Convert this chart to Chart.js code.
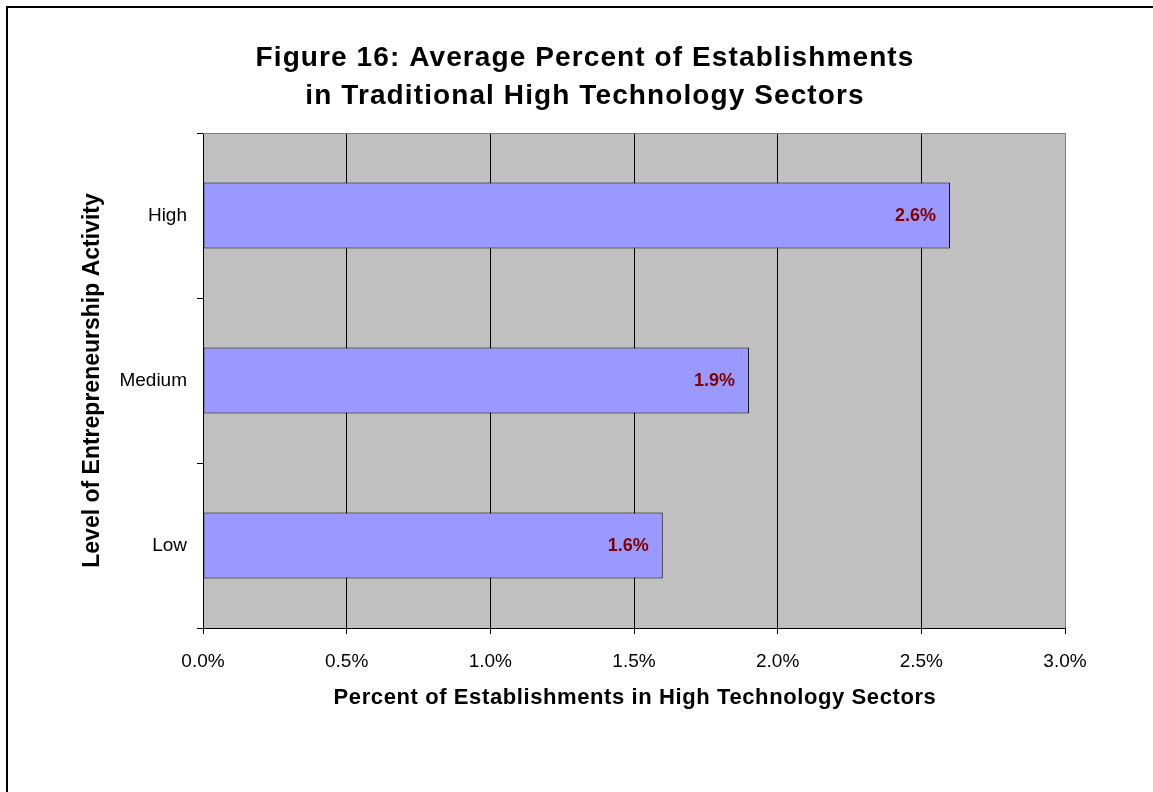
<!DOCTYPE html>
<html>
<head>
<meta charset="utf-8">
<script src="https://cdn.jsdelivr.net/npm/chart.js@4/dist/chart.umd.min.js"></script>
<style>
  html, body { margin: 0; padding: 0; background: #ffffff; }
  #wrap { position: relative; width: 1153px; height: 792px; }
</style>
</head>
<body>
<div id="wrap"><canvas id="c" width="1153" height="792"></canvas></div>
<script>
const categories = ['High', 'Medium', 'Low'];
const values = [2.6, 1.9, 1.6];
const valueLabels = ['2.6%', '1.9%', '1.6%'];
const xTicks = [0, 0.5, 1.0, 1.5, 2.0, 2.5, 3.0];
const titleLines = ['Figure 16: Average Percent of Establishments', 'in Traditional High Technology Sectors'];
const xTitle = 'Percent of Establishments in High Technology Sectors';
const yTitle = 'Level of Entrepreneurship Activity';

const FONT = 'Arial, "Liberation Sans", sans-serif';

const frame = {
  id: 'frame',
  beforeDraw(chart) {
    const { ctx, chartArea: a } = chart;
    ctx.save();
    ctx.fillStyle = '#C0C0C0';
    ctx.fillRect(a.left, a.top, a.right - a.left, a.bottom - a.top);
    ctx.restore();
  },
  afterDraw(chart) {
    const { ctx, chartArea: a } = chart;
    ctx.save();
    // outer border
    ctx.strokeStyle = '#000';
    ctx.lineWidth = 2;
    ctx.strokeRect(7, 7, 1200, 1200);
    // plot area top/right border
    ctx.strokeStyle = '#808080';
    ctx.lineWidth = 1;
    ctx.beginPath();
    ctx.moveTo(a.left, a.top + 0.5);
    ctx.lineTo(a.right + 0.5, a.top + 0.5);
    ctx.lineTo(a.right + 0.5, a.bottom);
    ctx.stroke();

    // main title
    ctx.fillStyle = '#000';
    ctx.textAlign = 'center';
    ctx.textBaseline = 'middle';
    ctx.font = 'bold 28px ' + FONT;
    if ('letterSpacing' in ctx) ctx.letterSpacing = '1.1px';
    ctx.fillText(titleLines[0], 585, 58);
    ctx.fillText(titleLines[1], 585, 96);

    // x axis title
    ctx.font = 'bold 22px ' + FONT;
    if ('letterSpacing' in ctx) ctx.letterSpacing = '0.6px';
    ctx.fillText(xTitle, (a.left + a.right) / 2 + 1, 698);

    // y axis title
    if ('letterSpacing' in ctx) ctx.letterSpacing = '0px';
    ctx.save();
    ctx.translate(93, (a.top + a.bottom) / 2);
    ctx.rotate(-Math.PI / 2);
    ctx.font = 'bold 23px ' + FONT;
    ctx.fillText(yTitle, 0, 0);
    ctx.restore();

    // value labels
    const meta = chart.getDatasetMeta(0);
    ctx.fillStyle = '#800000';
    ctx.font = 'bold 18px ' + FONT;
    ctx.textAlign = 'right';
    ctx.textBaseline = 'middle';
    meta.data.forEach((bar, i) => {
      ctx.fillText(valueLabels[i], bar.x - 14, bar.y + 1);
    });
    ctx.restore();
  }
};

new Chart(document.getElementById('c'), {
  type: 'bar',
  data: {
    labels: categories,
    datasets: [{
      data: values,
      backgroundColor: '#9999FF',
      borderColor: '#000000',
      borderWidth: 1,
      borderSkipped: false,
      barPercentage: 0.4,
      categoryPercentage: 1.0
    }]
  },
  options: {
    indexAxis: 'y',
    responsive: false,
    animation: false,
    devicePixelRatio: 1,
    layout: { padding: { left: 0, right: 88, top: 133, bottom: 0 } },
    plugins: {
      legend: { display: false },
      tooltip: { enabled: false },
      title: { display: false }
    },
    scales: {
      x: {
        type: 'linear',
        min: 0,
        max: 3,
        afterBuildTicks(scale) { scale.ticks = xTicks.map(v => ({ value: v })); },
        afterFit(scale) { scale.height = 164; },
        ticks: {
          color: '#000',
          font: { family: FONT, size: 19 },
          padding: 16,
          maxRotation: 0,
          callback: (v) => Number(v).toFixed(1) + '%'
        },
        grid: {
          color: (ctx) => (ctx.tick && ctx.tick.value === 3 ? '#808080' : '#000000'),
          tickColor: '#000000',
          tickLength: 6,
          lineWidth: 1
        },
        border: { display: true, color: '#000', width: 1 }
      },
      y: {
        afterFit(scale) { scale.width = 203; },
        ticks: {
          color: '#000',
          font: { family: FONT, size: 19 },
          padding: 10
        },
        grid: {
          display: true,
          drawOnChartArea: false,
          drawTicks: true,
          tickLength: 6,
          color: '#000',
          offset: true
        },
        border: { display: true, color: '#000', width: 1 }
      }
    }
  },
  plugins: [frame]
});
</script>
</body>
</html>
